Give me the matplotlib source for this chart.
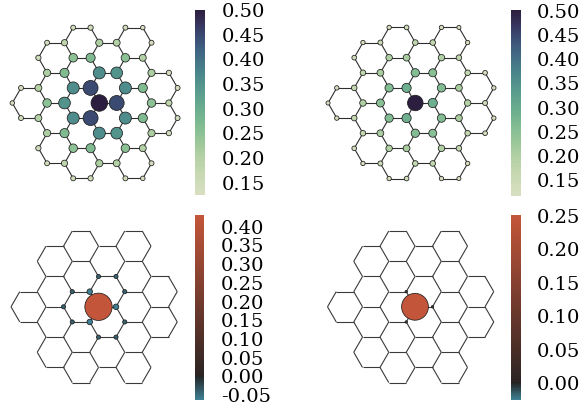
import numpy as np
import matplotlib
matplotlib.use("Agg")
import matplotlib.pyplot as plt
import seaborn as sns
from matplotlib.colors import ListedColormap, Normalize, TwoSlopeNorm
from matplotlib.cm import ScalarMappable
from matplotlib.collections import LineCollection

plt.rcParams['axes.unicode_minus'] = False
plt.rcParams['font.family'] = ['DejaVu Serif']

# ---------------- data ----------------
# hexagon centres of the flake: x in bond lengths, row index k (y = k*sqrt(3)/2)
hex_x = [-4, -2.5, -2.5, -2.5, -2.5, -1, -1, -1, -1, -1,
         0.5, 0.5, 0.5, 0.5, 2, 2, 2, 2, 2, 3.5, 3.5]
hex_k = [0, -3, -1, 1, 3, -4, -2, 0, 2, 4,
         -3, -1, 1, 3, -4, -2, 0, 2, 4, -1, 1]

# atom shells, labelled by squared distance from the central atom
shell_d2 = [0, 1, 3, 4, 7, 9, 12, 13, 16, 19, 21, 25]
vals_tl = [0.50, 0.45, 0.36, 0.35, 0.27, 0.25, 0.21, 0.20, 0.18, 0.15, 0.14, 0.125]
vals_tr = [0.50, 0.29, 0.26, 0.25, 0.21, 0.20, 0.17, 0.17, 0.15, 0.14, 0.13, 0.12]
vals_bl = [0.431, -0.063, -0.04, -0.04, 0, 0, 0, 0, 0, 0, 0, 0]
vals_br = [0.2515, -0.006, 0, 0, 0, 0, 0, 0, 0, 0, 0, 0]

lim_tl = (0.125, 0.50)
lim_tr = (0.118, 0.50)
lim_bl = (-0.063, 0.431)
lim_br = (-0.025, 0.2515)

ticks_top = [0.15, 0.20, 0.25, 0.30, 0.35, 0.40, 0.45, 0.50]
ticks_bl = [-0.05, 0.00, 0.05, 0.10, 0.15, 0.20, 0.25, 0.30, 0.35, 0.40]
ticks_br = [0.00, 0.05, 0.10, 0.15, 0.20, 0.25]

# ---------------- lattice ----------------
h = np.sqrt(3) / 2
atoms = {}
edges = set()
for cx, k in zip(hex_x, hex_k):
    keys = []
    for j in range(6):
        a = np.deg2rad(60 * j)
        x, y = cx + np.cos(a), k * h + np.sin(a)
        key = (int(round(2 * x)), int(round(y / h)))
        atoms[key] = (x, y)
        keys.append(key)
    for j in range(6):
        edges.add(tuple(sorted((keys[j], keys[(j + 1) % 6]))))
keys = list(atoms.keys())
ax_ = np.array([atoms[kk][0] for kk in keys])
ay_ = np.array([atoms[kk][1] for kk in keys])
d2 = np.round(ax_ ** 2 + ay_ ** 2).astype(int)
segs = [[atoms[a], atoms[b]] for a, b in edges]

W, H = 588, 408
fig = plt.figure(figsize=(W / 100, H / 100), dpi=100)

# cubehelix (green -> navy), re-stretched so its lightness follows the reference bar
_ch = sns.cubehelix_palette(start=.5, rot=-.75, as_cmap=True)
_tt = np.linspace(0, 1, 256)
_tp = np.interp(_tt, [0, 0.067, 0.2, 0.333, 0.467, 0.6, 0.733, 0.867, 1.0],
                [0, 0.03, 0.12, 0.25, 0.38, 0.50, 0.64, 0.80, 1.0])
top_cmap = ListedColormap(_ch(_tp))
div = sns.diverging_palette(220, 20, center='dark', as_cmap=True)


def div_cmap(lo, hi):
    g = np.linspace(lo, hi, 256)
    t = TwoSlopeNorm(0, lo, hi)(g)
    return ListedColormap(div(t))


def panel(box, center, scale, vals, cmap, lims, dmax, d0, lc, lw):
    x0, y0, w, hh = box
    ax = fig.add_axes([x0 / W, (H - y0 - hh) / H, w / W, hh / H])
    cxp, cyp = center
    ax.set_xlim((x0 - cxp) / scale, (x0 + w - cxp) / scale)
    ax.set_ylim((cyp - y0 - hh) / scale, (cyp - y0) / scale)
    ax.axis('off')
    ax.add_collection(LineCollection(segs, colors=lc, linewidths=lw, zorder=1))
    vmap = dict(zip(shell_d2, vals))
    v = np.array([vmap[d] for d in d2])
    order = np.argsort(np.abs(v))
    av = np.abs(v)
    dpx = np.where(av > 1e-4, d0 + (dmax - d0) * av / av.max(), 0.0)
    s = (dpx * 0.72) ** 2
    norm = Normalize(*lims)
    ax.scatter(ax_[order], ay_[order], s=s[order], c=v[order], cmap=cmap, norm=norm,
               edgecolors='#1e1e1e', linewidths=0.55, zorder=3)
    return norm


def cbar(box, norm, cmap, ticks):
    x0, y0, w, hh = box
    cax = fig.add_axes([x0 / W, (H - y0 - hh) / H, w / W, hh / H])
    cb = fig.colorbar(ScalarMappable(norm=norm, cmap=cmap), cax=cax, ticks=ticks)
    cb.outline.set_visible(False)
    cb.set_ticklabels([f"{t:.2f}" for t in ticks])
    cax.tick_params(length=0, pad=12, labelsize=14)


n1 = panel((0, 0, 190, 205), (99.3, 103), 17.4, vals_tl, top_cmap, lim_tl, 16.5, 0.5, '#2e2e2e', 0.8)
cbar((195, 10, 10, 185), n1, top_cmap, ticks_top)

n2 = panel((315, 0, 190, 205), (415.3, 103), 17.45, vals_tr, top_cmap, lim_tr, 15.5, 0.5, '#2e2e2e', 0.8)
cbar((511, 10.5, 9.5, 185.5), n2, top_cmap, ticks_top)

cm_bl = div_cmap(*lim_bl)
n3 = panel((0, 205, 190, 200), (98.5, 306.8), 17.5, vals_bl, cm_bl, lim_bl, 27.3, 1.8, '#3a3a3a', 0.8)
cbar((195, 215, 9.5, 185), n3, cm_bl, ticks_bl)

cm_br = div_cmap(*lim_br)
n4 = panel((315, 205, 190, 200), (415, 306.8), 17.5, vals_br, cm_br, lim_br, 26.8, 1.8, '#3a3a3a', 0.8)
cbar((511, 215, 9.5, 185), n4, cm_br, ticks_br)

fig.savefig('out.png', dpi=100)
